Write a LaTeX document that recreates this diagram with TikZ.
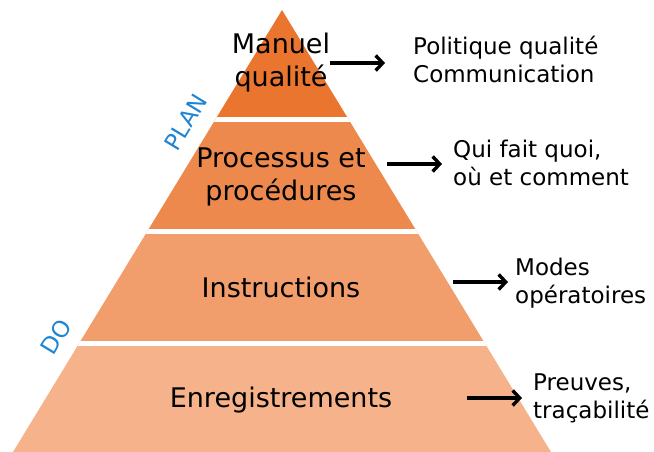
\documentclass[tikz,border=0pt]{standalone}
\usepackage{fontspec}
\setmainfont{DejaVu Sans}
\usetikzlibrary{arrows.meta}
\definecolor{layerA}{RGB}{234,117,46}
\definecolor{layerB}{RGB}{238,137,78}
\definecolor{layerC}{RGB}{242,158,108}
\definecolor{layerD}{RGB}{245,178,139}
\definecolor{phaseblue}{RGB}{30,132,212}
\tikzstyle{arrow} = [line width=3.4pt, -{Straight Barb[length=7pt,width=15pt]}]
\tikzstyle{level} = [align=center, inner sep=0pt, font=\fontsize{27}{33}\selectfont]
\tikzstyle{note} = [align=left, anchor=west, inner sep=0pt, font=\fontsize{23}{28}\selectfont]
\tikzstyle{phase} = [text=phaseblue, rotate=58.7, inner sep=0pt, font=\fontsize{23}{26}\selectfont]
\tikzstyle{gap} = [white, line width=5pt]

\begin{document}
\begin{tikzpicture}[x=1pt,y=-1pt]
    \useasboundingbox (0,0) rectangle (654,452);
    \coordinate (apex) at (282,10);
    \coordinate (baseL) at (13,452);
    \coordinate (baseR) at (551,452);
    % pyramid layers
    \begin{scope}
        \clip (apex) -- (baseL) -- (baseR) -- cycle;
        \fill[layerA] (0,0) rectangle (654,120);
        \fill[layerB] (0,120) rectangle (654,231);
        \fill[layerC] (0,231) rectangle (654,343);
        \fill[layerD] (0,343) rectangle (654,452);
        \draw[gap] (0,120) -- (654,120);
        \draw[gap] (0,231) -- (654,231);
        \draw[gap] (0,343) -- (654,343);
    \end{scope}
    % levels
    \node[level] (manuel) at (281,63) {Manuel\\qualité};
    \node[level] (processus) at (281,177) {Processus et\\procédures};
    \node[level] (instructions) at (281,287) {Instructions};
    \node[level] (enreg) at (281,400) {Enregistrements};
    % notes
    \node[note] (politique) at (413,59) {Politique qualité\\Communication};
    \node[note] (quifait) at (453,163) {Qui fait quoi,\\où et comment};
    \node[note] (modes) at (515,283) {Modes\\opératoires};
    \node[note] (preuves) at (533,398) {Preuves,\\traçabilité};
    % phases
    \node[phase] (plan) at (186,122) {PLAN};
    \node[phase] (do) at (56,337) {DO};
    % arrows
    \coordinate (tipA) at (385,63);
    \coordinate (startB) at (387,164);
    \coordinate (tipB) at (442,164);
    \coordinate (startC) at (453,282);
    \coordinate (tipC) at (508,282);
    \coordinate (startD) at (467,398);
    \coordinate (tipD) at (522,398);
    \draw[arrow] (manuel.east) -- (tipA);
    \draw[arrow] (startB) -- (tipB);
    \draw[arrow] (startC) -- (tipC);
    \draw[arrow] (startD) -- (tipD);
\end{tikzpicture}
\end{document}
